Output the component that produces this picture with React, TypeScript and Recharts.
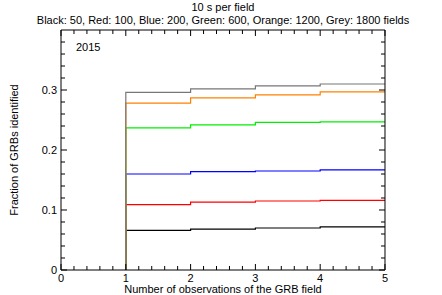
import { LineChart, Line, XAxis, YAxis, Label } from "recharts";

// number of observations of the field (x positions of the steps)
const observations = [1, 2, 3, 4, 5];

// fraction identified after N = 1..4 observations, one array per field count
const black50 = [0.066, 0.068, 0.07, 0.072];
const red100 = [0.109, 0.113, 0.115, 0.116];
const blue200 = [0.16, 0.164, 0.165, 0.167];
const green600 = [0.237, 0.242, 0.246, 0.247];
const orange1200 = [0.278, 0.287, 0.292, 0.297];
const grey1800 = [0.296, 0.302, 0.307, 0.31];

const xTicks = [0, 1, 2, 3, 4, 5];
const xMinorTicks = [0.2, 0.4, 0.6, 0.8, 1.2, 1.4, 1.6, 1.8, 2.2, 2.4, 2.6, 2.8, 3.2, 3.4, 3.6, 3.8, 4.2, 4.4, 4.6, 4.8];
const yTicks = [0, 0.1, 0.2, 0.3];
const yMinorTicks = [
  0.02, 0.04, 0.06, 0.08, 0.12, 0.14, 0.16, 0.18, 0.22, 0.24, 0.26, 0.28, 0.32, 0.34, 0.36, 0.38,
];

const series = [
  { key: "black", values: black50, color: "#000000" },
  { key: "red", values: red100, color: "#ff0000" },
  { key: "blue", values: blue200, color: "#0000ff" },
  { key: "green", values: green600, color: "#00ee00" },
  { key: "orange", values: orange1200, color: "#ff8000" },
  { key: "grey", values: grey1800, color: "#777777" },
];

// stepBefore: each curve rises from 0 at N=1, the value for N is held until N+1
const data = observations.map((n, i) => {
  const row: Record<string, number> = { n };
  series.forEach((s) => {
    row[s.key] = i === 0 ? 0 : s.values[i - 1];
  });
  return row;
});

// the frame axes (top, right, minor ticks) only draw when a series uses them
const framePairs = [
  { x: "b0", y: "l0" },
  { x: "t1", y: "r1" },
  { x: "t0", y: "r0" },
];

const font = "Liberation Sans, Arial, sans-serif";
const tickStyle = { fontSize: 11, fill: "#000", fontFamily: font };
const blank = () => "";
// recharts skips an axis whose size is 0, so the frame axes get a sliver
const THIN = 0.01;

export default function App() {
  return (
    <div style={{ position: "relative", width: 442, height: 295, fontFamily: font, background: "#fff" }}>
      <style>{`body{margin:0}`}</style>
      <div style={{ position: "absolute", left: 0, top: 1, width: 446, textAlign: "center", fontSize: 11, lineHeight: "13px" }}>
        10 s per field
      </div>
      <div style={{ position: "absolute", left: 0, top: 14, width: 446, textAlign: "center", fontSize: 11, lineHeight: "13px" }}>
        Black: 50, Red: 100, Blue: 200, Green: 600, Orange: 1200, Grey: 1800 fields
      </div>
      <div style={{ position: "absolute", left: 76, top: 41, fontSize: 11, lineHeight: "13px" }}>2015</div>
      <LineChart width={442} height={295} data={data} margin={{ top: 30, right: 57, bottom: 0, left: 0 }}>
        {/* minor axes first so they sit right on the plot edge */}
        <XAxis
          xAxisId="b0"
          dataKey="n"
          type="number"
          domain={[0, 5]}
          ticks={xMinorTicks}
          interval={0}
          allowDataOverflow
          height={THIN}
          tickSize={-4}
          tickFormatter={blank}
          axisLine={false}
          stroke="#000"
        />
        <XAxis
          xAxisId="b1"
          dataKey="n"
          type="number"
          domain={[0, 5]}
          ticks={xTicks}
          interval={0}
          allowDataOverflow
          height={25}
          tickSize={-6}
          tickMargin={10}
          tick={tickStyle}
          stroke="#000"
        >
          <Label
            value="Number of observations of the GRB field"
            position="insideBottom"
            offset={2}
            style={{ fontSize: 11, fill: "#000", fontFamily: font }}
          />
        </XAxis>
        <XAxis
          xAxisId="t0"
          dataKey="n"
          orientation="top"
          type="number"
          domain={[0, 5]}
          ticks={xMinorTicks}
          interval={0}
          allowDataOverflow
          height={THIN}
          tickSize={-4}
          tickFormatter={blank}
          axisLine={false}
          stroke="#000"
        />
        <XAxis
          xAxisId="t1"
          dataKey="n"
          orientation="top"
          type="number"
          domain={[0, 5]}
          ticks={xTicks}
          interval={0}
          allowDataOverflow
          height={THIN}
          tickSize={-6}
          tickFormatter={blank}
          stroke="#000"
        />
        <YAxis
          yAxisId="l0"
          type="number"
          domain={[0, 0.4]}
          ticks={yMinorTicks}
          interval={0}
          allowDataOverflow
          width={THIN}
          tickSize={-4}
          tickFormatter={blank}
          axisLine={false}
          stroke="#000"
        />
        <YAxis
          yAxisId="l1"
          type="number"
          domain={[0, 0.4]}
          ticks={yTicks}
          interval={0}
          allowDataOverflow
          width={61}
          tickSize={-6}
          tickMargin={10}
          tick={tickStyle}
          stroke="#000"
        >
          <Label
            value="Fraction of GRBs identified"
            angle={-90}
            position="insideLeft"
            offset={14}
            style={{ fontSize: 11, fill: "#000", fontFamily: font, textAnchor: "middle" }}
          />
        </YAxis>
        <YAxis
          yAxisId="r0"
          orientation="right"
          type="number"
          domain={[0, 0.4]}
          ticks={yMinorTicks}
          interval={0}
          allowDataOverflow
          width={THIN}
          tickSize={-4}
          tickFormatter={blank}
          axisLine={false}
          stroke="#000"
        />
        <YAxis
          yAxisId="r1"
          orientation="right"
          type="number"
          domain={[0, 0.4]}
          ticks={yTicks}
          interval={0}
          allowDataOverflow
          width={THIN}
          tickSize={-6}
          tickFormatter={blank}
          stroke="#000"
        />
        {framePairs.map((p) => (
          <Line
            key={p.x}
            xAxisId={p.x}
            yAxisId={p.y}
            dataKey="black"
            stroke="none"
            dot={false}
            activeDot={false}
            isAnimationActive={false}
          />
        ))}
        {series.map((s) => (
          <Line
            key={s.key}
            xAxisId="b1"
            yAxisId="l1"
            type="stepBefore"
            dataKey={s.key}
            stroke={s.color}
            strokeWidth={1.2}
            dot={false}
            activeDot={false}
            isAnimationActive={false}
          />
        ))}
      </LineChart>
    </div>
  );
}
